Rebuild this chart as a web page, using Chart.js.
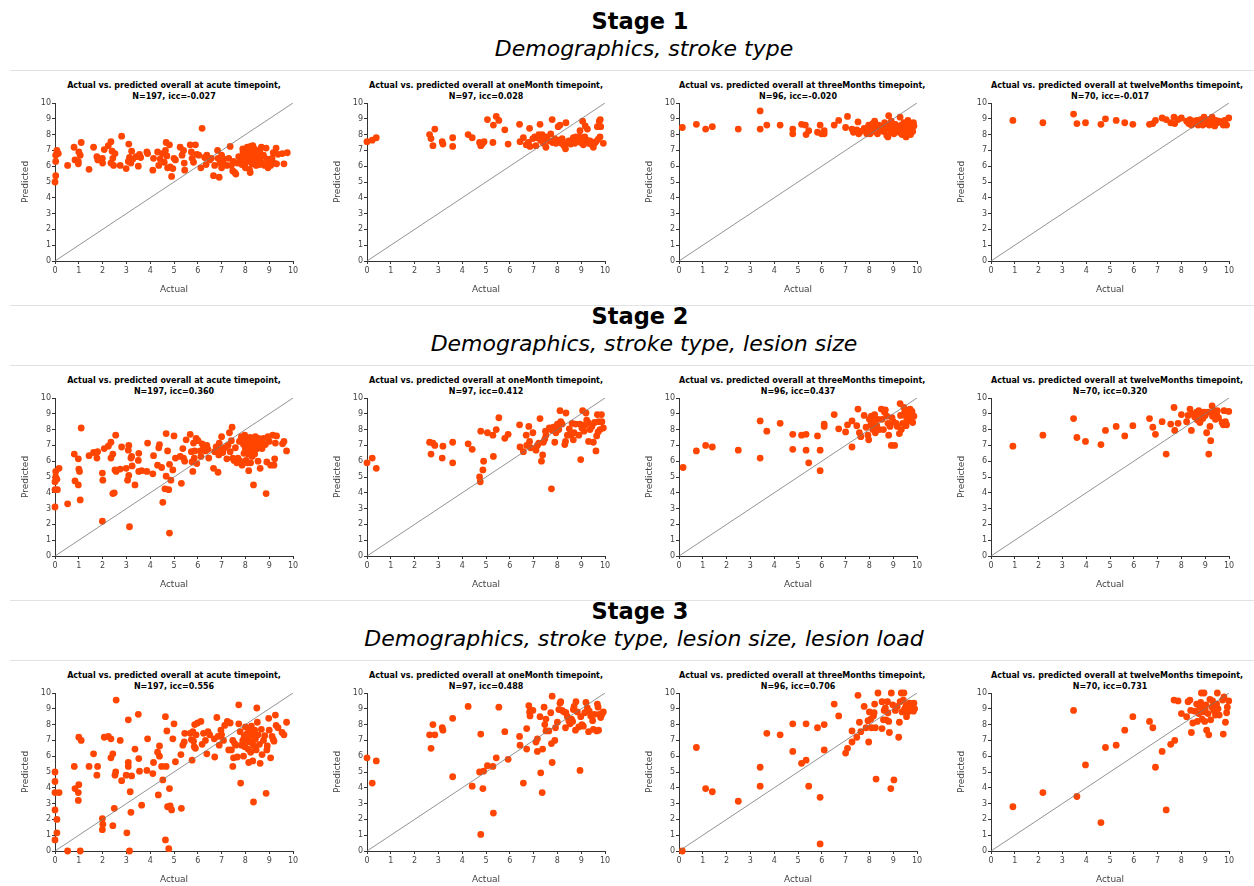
<!DOCTYPE html>
<html>
<head>
<meta charset="utf-8">
<script src="https://cdn.jsdelivr.net/npm/chart.js@4.4.1/dist/chart.umd.min.js"></script>
<style>
  body { margin: 0; background: #fff; }
  #fig { position: relative; width: 1254px; height: 886px; overflow: hidden; font-family: "DejaVu Sans", sans-serif; }
  .stage { position: absolute; left: 0; width: 1280px; text-align: center; font-weight: bold; font-size: 22.5px; line-height: 28px; }
  .sub { position: absolute; left: 0; width: 1288px; text-align: center; font-style: italic; font-size: 22px; line-height: 28px; }
  .sep { position: absolute; left: 10px; width: 1244px; height: 1px; background: #e2e2e2; }
  .ptitle { position: absolute; width: 238px; text-align: center; font-weight: bold; font-size: 8px; line-height: 11px; color: #000; white-space: nowrap; }
  canvas { position: absolute; }
</style>
</head>
<body>
<div id="fig"></div>
<script>
// stage headings
const stageNames = ['Stage 1', 'Stage 2', 'Stage 3'];
const stageSubtitles = [
  'Demographics, stroke type',
  'Demographics, stroke type, lesion size',
  'Demographics, stroke type, lesion size, lesion load'
];
const timepoints = ['acute', 'oneMonth', 'threeMonths', 'twelveMonths'];
const nValues = [197, 97, 96, 70];
const iccValues = [
  [-0.027, 0.028, -0.020, -0.017],
  [0.360, 0.412, 0.437, 0.320],
  [0.556, 0.488, 0.706, 0.731]
];
const axisTicks = [0, 1, 2, 3, 4, 5, 6, 7, 8, 9, 10];

// [actual, predicted]
const s1Acute = [[0,5.0],[0.03,5.4],[0.03,6.3],[0.03,6.7],[0.08,7.0],[0.14,6.8],[0.53,6.05],[0.8,7.2],[0.84,6.4],[0.98,6.3],[1.0,6.9],[0.98,6.15],[1.1,7.5],[1.06,6.7],[1.43,5.8],[1.62,7.2],[1.76,6.6],[1.8,6.4],[1.99,6.5],[2.0,6.2],[2.07,7.05],[2.24,7.3],[2.35,7.55],[2.35,6.2],[2.4,6.95],[2.43,6.5],[2.46,6.05],[2.52,6.8],[2.74,6.05],[2.8,7.9],[2.99,5.85],[3.08,6.3],[3.1,7.4],[3.13,6.55],[3.19,6.2],[3.22,6.95],[3.27,6.45],[3.41,6.6],[3.5,6.0],[3.55,6.75],[3.6,6.55],[3.86,6.9],[3.89,6.8],[4.11,5.75],[4.14,6.5],[4.31,6.9],[4.36,6.05],[4.42,6.45],[4.5,6.8],[4.59,6.25],[4.64,7.0],[4.67,7.5],[4.7,6.65],[4.73,5.9],[4.81,7.35],[4.84,5.95],[4.9,5.35],[4.95,5.85],[5.0,6.5],[5.06,6.4],[5.26,7.2],[5.34,6.7],[5.4,7.0],[5.43,6.2],[5.45,5.75],[5.68,7.35],[5.73,6.9],[5.76,6.5],[5.82,6.25],[5.9,7.35],[5.96,6.75],[6.04,6.7],[6.13,5.9],[6.18,8.4],[6.29,6.55],[6.35,6.1],[6.38,6.7],[6.5,6.4],[6.57,6.5],[6.66,5.4],[6.71,6.05],[6.83,7.0],[6.85,6.5],[6.9,5.3],[6.94,6.2],[7.0,6.7],[7.0,5.9],[7.05,6.25],[7.1,6.45],[7.22,6.05],[7.3,6.5],[7.36,7.25],[7.41,6.05],[7.47,5.7],[7.5,6.3],[7.55,5.6],[7.6,5.5],[7.66,6.2],[7.72,6.6],[7.83,6.35],[7.89,7.1],[7.94,6.7],[7.97,6.1],[8.0,5.9],[8.03,6.5],[8.08,7.2],[8.1,6.3],[8.14,6.85],[8.17,5.8],[8.2,5.6],[8.22,7.25],[8.25,6.6],[8.28,6.15],[8.31,7.3],[8.34,6.75],[8.36,6.3],[8.39,7.05],[8.42,6.5],[8.45,6.05],[8.48,6.9],[8.5,6.65],[8.56,6.4],[8.62,7.05],[8.67,7.2],[8.7,6.2],[8.76,6.7],[8.81,6.05],[8.87,7.15],[8.92,6.45],[8.95,5.9],[9.0,6.3],[9.06,6.05],[9.12,6.5],[9.17,6.85],[9.2,6.2],[9.29,7.15],[9.31,6.15],[9.37,6.75],[9.55,6.8],[9.62,6.15],[9.76,6.85],[7.95,6.55],[8.05,6.8],[8.15,6.45],[8.3,6.95],[8.4,6.2],[8.55,6.9],[8.65,6.55],[7.9,6.9],[8.2,6.4],[8.45,6.75],[8.35,7.15],[8.6,6.1],[8.1,7.0],[7.85,6.1],[8.0,6.3]];
const s1OneMonth = [[0,7.55],[0.22,7.65],[0.39,7.8],[2.63,8.0],[2.69,7.75],[2.77,7.3],[2.85,8.35],[3.16,7.55],[3.19,7.4],[3.6,7.8],[3.6,7.25],[4.25,8.0],[4.42,7.8],[4.73,7.5],[4.78,7.3],[4.84,7.4],[4.92,7.55],[5.06,8.95],[5.29,7.5],[5.31,8.6],[5.43,9.15],[5.54,8.9],[5.79,8.3],[5.93,7.4],[6.41,8.65],[6.43,7.55],[6.57,7.8],[6.69,7.35],[6.78,7.5],[6.83,8.4],[6.85,7.25],[6.97,7.75],[7.05,7.85],[7.1,7.3],[7.16,7.8],[7.22,8.0],[7.27,8.65],[7.3,7.65],[7.36,8.0],[7.41,7.45],[7.47,7.8],[7.52,7.2],[7.55,7.85],[7.66,7.6],[7.72,8.05],[7.78,8.95],[7.8,7.5],[7.89,7.75],[7.94,7.45],[8.03,8.5],[8.08,7.65],[8.11,8.6],[8.17,7.45],[8.2,7.75],[8.28,7.3],[8.34,7.1],[8.36,8.75],[8.42,7.5],[8.48,7.6],[8.56,7.4],[8.62,7.65],[8.67,7.8],[8.73,7.45],[8.78,7.85],[8.84,7.65],[8.9,7.85],[8.95,8.25],[8.98,7.5],[9.03,7.8],[9.06,8.85],[9.09,7.35],[9.15,7.85],[9.17,8.55],[9.23,7.65],[9.26,8.35],[9.31,7.45],[9.37,7.6],[9.45,7.35],[9.51,7.2],[9.56,7.45],[9.62,7.55],[9.68,8.5],[9.71,7.7],[9.76,8.85],[9.79,7.85],[9.82,8.5],[9.8,8.95],[9.93,7.45]];
const s1ThreeMonths = [[0.14,8.45],[0.73,8.65],[1.12,8.35],[1.4,8.5],[2.49,8.35],[3.41,9.5],[3.41,8.35],[3.69,8.6],[4.25,8.6],[4.78,8.35],[4.78,8.05],[5.15,8.65],[5.31,8.6],[5.34,8.0],[5.45,8.25],[5.82,8.15],[5.93,8.6],[5.99,8.05],[6.1,8.25],[6.1,8.05],[6.52,8.6],[6.71,8.9],[7.0,8.45],[7.08,9.15],[7.27,8.35],[7.33,8.15],[7.47,8.3],[7.52,8.8],[7.55,8.05],[7.64,8.2],[7.78,8.4],[7.89,8.05],[7.97,8.6],[8.0,8.3],[8.03,8.05],[8.1,8.5],[8.14,8.7],[8.2,8.2],[8.22,8.85],[8.28,8.4],[8.34,8.05],[8.39,8.6],[8.45,8.3],[8.53,8.5],[8.59,8.2],[8.64,8.75],[8.67,8.35],[8.73,7.95],[8.78,7.85],[8.81,9.2],[8.84,8.55],[8.9,8.2],[8.92,8.85],[8.98,8.4],[9.03,8.05],[9.09,8.65],[9.15,8.3],[9.2,8.5],[9.26,8.15],[9.29,9.1],[9.34,8.6],[9.37,8.0],[9.43,8.4],[9.45,8.75],[9.51,8.25],[9.54,7.85],[9.59,8.55],[9.62,8.9],[9.65,8.2],[9.71,8.65],[9.73,8.0],[9.76,8.35],[9.82,8.2],[9.87,8.55],[9.85,8.75]];
const s1TwelveMonths = [[0.92,8.9],[2.18,8.75],[3.47,9.3],[3.61,8.7],[3.97,8.75],[4.62,8.65],[4.81,9.0],[5.26,8.9],[5.62,8.75],[5.96,8.65],[6.66,8.65],[6.8,8.7],[6.91,8.9],[7.19,9.05],[7.36,8.95],[7.55,8.75],[7.69,9.1],[7.72,8.7],[7.86,8.95],[8.0,9.05],[8.22,8.85],[8.31,8.7],[8.36,8.95],[8.42,8.6],[8.48,8.85],[8.56,8.7],[8.64,8.9],[8.7,8.6],[8.76,8.85],[8.81,8.95],[8.9,8.6],[8.95,9.1],[9.0,8.85],[9.06,8.7],[9.12,8.95],[9.17,8.6],[9.23,8.85],[9.29,9.1],[9.34,8.7],[9.4,8.55],[9.45,8.9],[9.51,8.75],[9.59,8.85],[9.71,8.75],[9.76,8.6],[9.82,8.9],[9.9,8.6],[9.99,9.05]];

const s2Acute = [[0,3.1],[0,4.2],[0,4.7],[0.03,5.0],[0.03,5.35],[0.08,4.85],[0.1,4.2],[0.17,5.55],[0.53,3.3],[0.81,6.45],[0.84,4.75],[0.98,4.5],[0.98,6.15],[1.0,5.5],[1.03,5.35],[1.06,3.55],[1.1,8.1],[1.43,6.35],[1.62,6.55],[1.79,6.6],[1.76,6.2],[1.99,5.25],[2.01,4.8],[1.99,2.2],[2.07,6.8],[2.24,6.95],[2.35,7.2],[2.35,6.2],[2.43,6.45],[2.43,3.95],[2.49,4.0],[2.52,5.45],[2.55,7.65],[2.57,5.35],[2.74,5.5],[2.8,6.9],[2.99,5.55],[3.05,4.8],[3.08,6.7],[3.1,7.0],[3.1,5.1],[3.13,1.85],[3.19,6.2],[3.22,6.3],[3.24,5.7],[3.36,4.5],[3.5,6.05],[3.52,6.5],[3.52,5.35],[3.64,5.4],[3.86,5.35],[3.89,7.15],[4.11,5.2],[4.14,6.35],[4.31,5.75],[4.36,6.85],[4.39,7.05],[4.48,5.6],[4.53,3.4],[4.62,4.25],[4.67,7.75],[4.67,5.05],[4.73,6.65],[4.78,4.2],[4.81,5.8],[4.81,1.45],[4.87,4.8],[4.95,5.45],[5.0,7.6],[5.06,6.2],[5.26,6.3],[5.31,4.6],[5.37,6.8],[5.4,6.2],[5.45,6.0],[5.51,7.35],[5.68,7.7],[5.73,6.6],[5.76,5.95],[5.79,5.35],[5.82,7.15],[5.85,6.2],[5.87,6.65],[5.93,7.45],[5.96,5.85],[6.01,7.3],[6.1,6.65],[6.13,6.3],[6.18,7.1],[6.24,6.9],[6.32,6.65],[6.38,7.0],[6.43,6.75],[6.46,6.2],[6.66,5.55],[6.71,6.6],[6.77,6.9],[6.85,5.3],[6.88,6.4],[6.9,7.15],[6.97,6.75],[7.0,7.55],[7.05,6.55],[7.13,6.85],[7.22,6.15],[7.27,7.0],[7.33,7.8],[7.36,6.6],[7.41,7.3],[7.44,8.15],[7.47,6.2],[7.52,6.05],[7.58,6.85],[7.64,5.9],[7.69,6.2],[7.75,7.25],[7.78,6.0],[7.83,7.55],[7.86,5.75],[7.92,7.05],[7.94,6.5],[7.97,7.65],[8.0,6.75],[8.03,6.05],[8.06,7.35],[8.08,5.9],[8.11,6.45],[8.14,5.4],[8.17,7.15],[8.2,7.5],[8.22,5.9],[8.25,6.7],[8.28,6.3],[8.31,7.35],[8.34,4.5],[8.36,6.95],[8.39,6.45],[8.42,7.55],[8.48,7.2],[8.5,6.8],[8.53,6.0],[8.56,7.45],[8.59,7.0],[8.62,5.55],[8.67,7.25],[8.7,6.8],[8.76,7.45],[8.84,7.05],[8.87,3.95],[8.9,5.95],[8.95,7.55],[9.0,7.25],[9.06,5.75],[9.15,7.65],[9.2,5.75],[9.23,6.15],[9.26,7.15],[9.31,7.6],[9.56,7.1],[9.62,7.25],[9.73,6.65],[8.05,7.0],[8.3,7.1],[8.45,7.35],[8.15,6.9],[7.9,7.3],[8.6,7.3]];
const s2OneMonth = [[0,5.9],[0.22,6.2],[0.39,5.55],[2.63,7.2],[2.69,6.45],[2.77,7.15],[2.85,7.0],[3.16,6.2],[3.19,6.95],[3.6,7.2],[3.6,5.9],[4.25,7.1],[4.42,6.75],[4.73,5.0],[4.76,4.7],[4.78,7.9],[4.87,5.45],[4.9,6.0],[5.06,7.8],[5.29,7.65],[5.31,6.3],[5.43,8.0],[5.54,8.75],[5.79,7.45],[5.93,7.7],[6.41,8.3],[6.43,6.9],[6.57,6.6],[6.69,7.65],[6.71,7.0],[6.8,8.2],[6.83,7.25],[6.88,6.85],[6.97,7.8],[7.1,6.7],[7.16,7.0],[7.22,7.15],[7.27,8.7],[7.33,6.0],[7.38,6.4],[7.41,7.2],[7.47,7.4],[7.5,7.9],[7.52,7.65],[7.66,8.1],[7.75,4.25],[7.78,7.95],[7.83,8.15],[7.89,7.2],[7.94,7.8],[8.0,8.35],[8.06,8.0],[8.11,9.2],[8.14,8.5],[8.2,8.35],[8.31,7.05],[8.34,7.25],[8.36,9.05],[8.42,7.65],[8.5,8.05],[8.56,7.65],[8.62,8.4],[8.67,7.35],[8.7,7.8],[8.76,8.35],[8.9,7.65],[8.95,8.35],[8.98,6.1],[9.03,8.1],[9.06,9.2],[9.12,7.9],[9.17,8.3],[9.2,9.05],[9.23,8.6],[9.29,8.45],[9.31,7.25],[9.37,8.0],[9.45,8.2],[9.51,7.2],[9.56,8.45],[9.62,6.65],[9.65,7.6],[9.68,8.95],[9.71,7.85],[9.73,8.5],[9.79,8.0],[9.85,8.95],[9.87,8.5],[9.93,8.1]];
const s2ThreeMonths = [[0.17,5.6],[0.73,6.65],[1.12,7.0],[1.4,6.9],[2.49,6.7],[3.41,8.55],[3.41,6.2],[3.69,7.9],[4.25,8.4],[4.78,7.7],[4.78,6.75],[5.15,7.65],[5.34,7.7],[5.34,6.7],[5.45,5.9],[5.82,7.6],[5.93,6.7],[5.93,5.4],[6.1,8.35],[6.1,8.2],[6.52,8.95],[6.71,8.05],[7.0,7.85],[7.08,8.3],[7.27,8.55],[7.27,6.9],[7.47,8.25],[7.52,9.3],[7.58,7.8],[7.64,7.55],[7.78,8.9],[7.86,8.15],[7.94,7.65],[7.97,7.35],[8.0,8.65],[8.06,8.3],[8.08,8.85],[8.14,8.0],[8.17,8.55],[8.22,8.95],[8.25,7.8],[8.31,8.25],[8.36,8.65],[8.42,8.0],[8.5,9.3],[8.53,8.65],[8.59,8.0],[8.64,9.1],[8.67,9.25],[8.73,8.85],[8.78,8.4],[8.81,7.65],[8.87,8.2],[8.92,7.0],[8.95,8.75],[9.0,8.5],[9.06,7.0],[9.12,8.4],[9.17,8.2],[9.26,7.75],[9.29,9.65],[9.31,8.9],[9.34,8.0],[9.4,8.4],[9.45,9.4],[9.48,9.1],[9.54,8.25],[9.56,8.75],[9.62,8.55],[9.65,8.95],[9.71,9.3],[9.73,8.65],[9.79,9.15],[9.82,8.45],[9.87,8.85]];
const s2TwelveMonths = [[0.92,6.95],[2.18,7.65],[3.47,8.7],[3.61,7.5],[3.97,7.25],[4.62,7.05],[4.81,7.95],[5.26,8.2],[5.62,7.6],[5.96,8.25],[6.66,8.7],[6.8,8.15],[6.91,7.7],[7.19,8.5],[7.36,6.45],[7.55,8.35],[7.69,9.4],[7.72,7.95],[7.86,8.4],[8.0,8.95],[8.22,8.5],[8.28,8.9],[8.36,9.3],[8.42,7.95],[8.48,9.0],[8.56,8.8],[8.64,9.1],[8.67,8.6],[8.73,9.2],[8.78,8.45],[8.84,8.9],[8.9,8.7],[8.95,9.1],[9.0,8.9],[9.06,7.8],[9.12,9.1],[9.15,6.45],[9.2,8.2],[9.23,7.3],[9.29,9.5],[9.31,8.85],[9.37,9.2],[9.43,8.65],[9.48,9.0],[9.51,9.2],[9.56,8.75],[9.71,8.45],[9.76,8.3],[9.79,9.2],[9.85,8.5],[9.9,8.3],[9.99,9.15]];

const s3Acute = [[0,5.0],[0,4.4],[0,3.7],[0,2.6],[0,0.7],[0.08,2.0],[0.08,1.15],[0.17,3.7],[0.53,0],[0.81,5.35],[0.84,3.95],[0.98,3.7],[0.98,3.2],[1.0,7.2],[1.0,4.2],[1.06,0],[1.1,7.0],[1.43,5.35],[1.62,6.15],[1.76,4.8],[1.79,5.35],[1.99,2.05],[2.01,1.7],[1.99,1.35],[2.07,7.2],[2.24,7.25],[2.35,7.1],[2.35,5.9],[2.43,6.15],[2.43,1.6],[2.49,2.7],[2.52,4.8],[2.55,5.0],[2.57,9.55],[2.74,7.0],[2.8,4.45],[2.99,4.8],[3.02,1.15],[3.08,8.3],[3.08,5.6],[3.08,5.35],[3.13,0],[3.16,3.75],[3.19,2.45],[3.22,4.75],[3.36,6.45],[3.5,8.65],[3.52,5.85],[3.55,5.05],[3.64,2.9],[3.86,5.1],[3.89,7.1],[4.11,4.9],[4.14,5.6],[4.31,6.25],[4.34,3.55],[4.39,6.65],[4.39,6.0],[4.48,5.35],[4.53,4.5],[4.64,8.5],[4.64,0.7],[4.67,5.35],[4.7,7.6],[4.73,2.8],[4.78,0.15],[4.81,3.95],[4.84,2.85],[4.9,2.6],[4.95,7.1],[5.0,8.05],[5.06,5.65],[5.29,6.1],[5.31,2.7],[5.37,6.7],[5.43,6.9],[5.45,7.45],[5.68,7.45],[5.73,7.05],[5.76,5.75],[5.79,7.55],[5.82,6.95],[5.85,6.6],[5.87,8.0],[5.9,6.5],[5.93,7.35],[5.99,8.1],[6.13,8.2],[6.18,6.75],[6.24,7.45],[6.32,7.0],[6.38,6.15],[6.43,7.55],[6.5,7.35],[6.69,7.1],[6.71,5.95],[6.8,8.45],[6.85,7.25],[6.9,6.7],[6.97,7.65],[7.0,7.35],[7.08,7.0],[7.13,7.95],[7.24,8.2],[7.3,6.4],[7.36,8.1],[7.41,6.4],[7.47,7.0],[7.47,5.35],[7.5,5.9],[7.55,6.8],[7.6,6.7],[7.66,5.95],[7.72,9.25],[7.72,8.05],[7.78,7.55],[7.8,4.3],[7.83,6.7],[7.89,7.0],[7.92,6.0],[7.97,6.6],[8.0,7.85],[8.03,7.1],[8.08,7.45],[8.11,6.45],[8.14,5.6],[8.17,7.7],[8.2,6.9],[8.22,6.25],[8.25,7.9],[8.28,7.35],[8.31,5.7],[8.34,3.1],[8.36,6.65],[8.39,7.65],[8.42,7.1],[8.45,6.4],[8.48,9.05],[8.5,8.15],[8.53,7.35],[8.59,6.75],[8.62,5.55],[8.67,7.7],[8.7,6.1],[8.76,7.0],[8.81,7.3],[8.87,3.65],[8.9,6.4],[8.92,6.65],[8.98,8.4],[9.0,7.65],[9.06,5.9],[9.12,7.25],[9.17,7.05],[9.2,6.95],[9.26,8.6],[9.29,7.95],[9.37,7.8],[9.54,7.5],[9.62,7.35],[9.73,8.15],[8.05,6.9],[8.3,6.8],[8.15,7.25],[8.4,7.35],[7.95,7.3]];
const s3OneMonth = [[0,5.9],[0.22,4.3],[0.39,5.7],[2.63,7.35],[2.69,6.5],[2.77,8.0],[2.85,7.35],[3.16,7.8],[3.19,7.65],[3.6,8.4],[3.6,4.7],[4.25,9.15],[4.42,4.1],[4.73,5.0],[4.78,7.4],[4.78,1.05],[4.87,3.95],[4.9,5.05],[5.06,5.4],[5.29,5.35],[5.31,2.4],[5.43,5.9],[5.54,9.1],[5.79,7.55],[5.93,5.8],[6.41,7.25],[6.43,6.7],[6.57,4.3],[6.71,7.75],[6.71,6.45],[6.8,9.2],[6.83,8.8],[6.85,8.55],[6.97,8.9],[7.1,6.9],[7.16,7.1],[7.16,6.3],[7.27,8.5],[7.3,4.95],[7.36,3.7],[7.38,6.45],[7.44,9.1],[7.47,8.0],[7.52,7.6],[7.52,8.35],[7.64,7.6],[7.72,8.75],[7.75,6.8],[7.78,5.6],[7.78,9.8],[7.89,7.0],[7.92,7.8],[8.0,8.15],[8.06,8.95],[8.11,9.35],[8.14,9.45],[8.2,8.9],[8.28,8.8],[8.34,7.8],[8.36,8.75],[8.42,8.5],[8.48,8.25],[8.53,8.05],[8.59,8.35],[8.64,8.2],[8.67,8.95],[8.7,9.15],[8.76,7.65],[8.78,9.45],[8.84,8.8],[8.9,7.85],[8.95,5.1],[8.98,8.5],[9.03,8.0],[9.09,7.9],[9.15,8.75],[9.2,9.4],[9.26,9.05],[9.31,7.55],[9.34,8.85],[9.4,8.55],[9.48,8.25],[9.51,7.7],[9.56,8.65],[9.65,7.6],[9.68,9.3],[9.71,9.1],[9.73,7.65],[9.76,8.65],[9.82,8.45],[9.87,8.65],[9.93,8.8]];
const s3ThreeMonths = [[0.14,0],[0.73,6.55],[1.12,3.95],[1.4,3.75],[2.49,3.15],[3.41,5.3],[3.41,4.1],[3.69,7.45],[4.25,7.35],[4.78,8.05],[4.78,6.3],[5.15,5.55],[5.34,5.75],[5.34,8.05],[5.45,4.1],[5.82,7.8],[5.93,3.4],[5.93,0.45],[6.1,8.0],[6.1,6.4],[6.52,9.3],[6.71,8.55],[7.0,6.2],[7.08,6.5],[7.27,7.6],[7.27,6.9],[7.47,7.2],[7.52,9.85],[7.58,8.15],[7.64,7.55],[7.78,9.15],[7.86,7.8],[7.94,8.25],[7.97,6.9],[8.0,8.8],[8.06,8.35],[8.08,7.8],[8.17,8.55],[8.2,8.75],[8.22,9.3],[8.25,7.8],[8.28,4.55],[8.36,10.0],[8.53,9.45],[8.53,7.75],[8.59,8.3],[8.62,8.9],[8.67,9.05],[8.7,8.3],[8.76,9.45],[8.78,8.75],[8.81,8.2],[8.84,7.5],[8.9,3.95],[8.92,10.0],[8.98,9.25],[9.03,4.5],[9.09,8.9],[9.17,9.15],[9.23,7.2],[9.26,8.15],[9.29,9.45],[9.34,10.0],[9.37,8.8],[9.43,9.55],[9.45,10.0],[9.48,9.0],[9.54,9.2],[9.56,8.5],[9.62,8.8],[9.68,9.35],[9.73,8.95],[9.79,9.2],[9.85,8.85],[9.87,9.35],[9.9,9.0]];
const s3TwelveMonths = [[0.92,2.8],[2.18,3.7],[3.47,8.9],[3.61,3.45],[3.97,5.45],[4.62,1.8],[4.81,6.55],[5.26,6.7],[5.62,7.65],[5.96,8.5],[6.66,8.2],[6.8,7.8],[6.91,5.3],[7.19,6.3],[7.36,2.6],[7.55,6.75],[7.69,9.55],[7.72,7.0],[7.86,9.5],[8.0,8.7],[8.22,8.5],[8.28,9.45],[8.36,9.55],[8.39,8.9],[8.42,7.5],[8.48,8.1],[8.56,8.85],[8.64,9.3],[8.67,8.2],[8.73,8.7],[8.78,9.1],[8.81,9.4],[8.84,10.0],[8.87,8.35],[8.9,8.8],[8.95,10.0],[8.98,8.2],[9.0,9.0],[9.03,9.25],[9.06,7.65],[9.12,8.7],[9.15,7.35],[9.2,9.6],[9.23,8.3],[9.29,9.1],[9.31,9.5],[9.37,8.9],[9.43,8.6],[9.48,9.3],[9.51,10.0],[9.54,9.0],[9.59,8.6],[9.73,9.55],[9.76,7.4],[9.79,9.75],[9.85,8.15],[9.9,8.75],[9.93,9.1],[9.99,9.5]];

const panelData = [
  [s1Acute, s1OneMonth, s1ThreeMonths, s1TwelveMonths],
  [s2Acute, s2OneMonth, s2ThreeMonths, s2TwelveMonths],
  [s3Acute, s3OneMonth, s3ThreeMonths, s3TwelveMonths]
];

const fig = document.getElementById('fig');

// headings and separator lines
stageNames.forEach((name, r) => {
  const h = document.createElement('div');
  h.className = 'stage';
  h.style.top = (7 + r * 295) + 'px';
  h.textContent = name;
  fig.appendChild(h);
  const s = document.createElement('div');
  s.className = 'sub';
  s.style.top = (35 + r * 295) + 'px';
  s.textContent = stageSubtitles[r];
  fig.appendChild(s);
});
[70, 305, 365, 600, 660].forEach(y => {
  const l = document.createElement('div');
  l.className = 'sep';
  l.style.top = y + 'px';
  fig.appendChild(l);
});

const axisColor = '#333';
const tickColor = '#444';

function makeScale(axis) {
  const isX = axis === 'x';
  return {
    type: 'linear',
    min: 0,
    max: 10,
    afterBuildTicks: scale => { scale.ticks = axisTicks.map(v => ({ value: v })); },
    afterFit: scale => { if (isX) scale.height = 42; else scale.width = 45; },
    border: { display: true, color: axisColor, width: 1 },
    grid: { drawOnChartArea: false, drawTicks: true, tickLength: 3, color: axisColor },
    ticks: { color: tickColor, padding: isX ? 2 : 1, font: { family: 'DejaVu Sans', size: 8 } },
    title: {
      display: true,
      text: isX ? 'Actual' : 'Predicted',
      color: '#444',
      font: { family: 'DejaVu Sans', size: 9 },
      padding: isX ? { bottom: 7.6 } : { top: 10.3 }
    }
  };
}

for (let r = 0; r < 3; r++) {
  for (let c = 0; c < 4; c++) {
    // panel title, centred over the plot area
    const t = document.createElement('div');
    t.className = 'ptitle';
    t.style.left = (55 + c * 312) + 'px';
    t.style.top = (80 + r * 295) + 'px';
    t.innerHTML = 'Actual vs. predicted overall at ' + timepoints[c] + ' timepoint,<br>' +
      'N=' + nValues[c] + ', icc=' + iccValues[r][c].toFixed(3);
    fig.appendChild(t);

    const cv = document.createElement('canvas');
    cv.width = 300;
    cv.height = 230;
    cv.style.width = '300px';
    cv.style.height = '230px';
    cv.style.left = (10 + c * 312) + 'px';
    cv.style.top = (73 + r * 295) + 'px';
    fig.appendChild(cv);

    const pts = panelData[r][c].map(p => ({ x: p[0], y: p[1] }));
    new Chart(cv.getContext('2d'), {
      type: 'scatter',
      data: {
        datasets: [
          {
            type: 'line',
            data: [{ x: 0, y: 0 }, { x: 10, y: 10 }],
            borderColor: '#777',
            borderWidth: 0.8,
            pointRadius: 0,
            order: 0
          },
          {
            data: pts,
            backgroundColor: '#ff4500',
            borderWidth: 0,
            pointRadius: 3.4,
            clip: false,
            order: 1
          }
        ]
      },
      options: {
        responsive: false,
        animation: false,
        layout: { padding: { left: 0, right: 17, top: 30, bottom: 0 } },
        plugins: {
          legend: { display: false },
          tooltip: { enabled: false },
          title: { display: false }
        },
        scales: { x: makeScale('x'), y: makeScale('y') }
      }
    });
  }
}
</script>
</body>
</html>
